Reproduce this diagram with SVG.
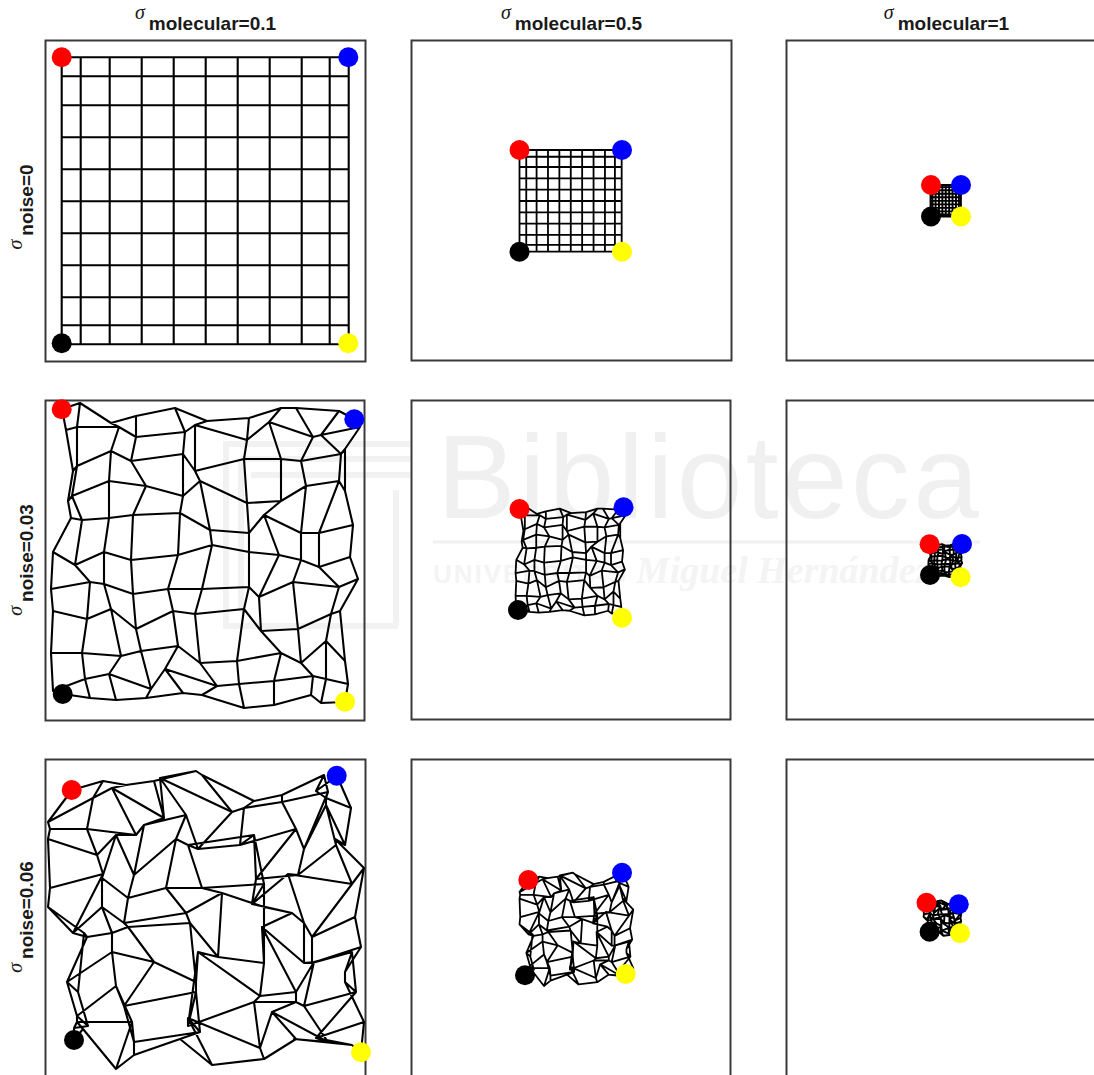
<svg xmlns="http://www.w3.org/2000/svg" xmlns:xlink="http://www.w3.org/1999/xlink" width="1094" height="1075" viewBox="0 0 1094 1075">
<style>
.box{fill:none;stroke:#3a3a3a;stroke-width:2}
.m1{fill:none;stroke:#000;stroke-width:2.1;stroke-linejoin:round}
.m2{fill:none;stroke:#000;stroke-width:1.8;stroke-linejoin:round}
.m3{fill:none;stroke:#000;stroke-width:1.9;stroke-linejoin:round}
.hd{font-family:"Liberation Sans",Arial,sans-serif;font-weight:bold;font-size:19px;fill:#1a1a1a}
.sg{font-family:"Liberation Serif","Times New Roman",serif;font-style:italic;font-weight:normal;font-size:20px}
.wm{fill:#f0f0f0}
.wm2{fill:#f4f4f4}
.wml{fill:none;stroke:#f2f2f2;stroke-width:6}
.r{fill:#ff0000}.b{fill:#0000ff}.k{fill:#000}.y{fill:#ffff00}
</style>
<defs>
<path id="grid" vector-effect="non-scaling-stroke" d="M0,0H287M0,19H287M0,48H287M0,80H287M0,112H287M0,144H287M0,176H287M0,208H287M0,240H287M0,268H287M0,287H287M0,0V287M19,0V287M48,0V287M80,0V287M112,0V287M144,0V287M176,0V287M208,0V287M240,0V287M268,0V287M287,0V287"/>
<path id="meshA" vector-effect="non-scaling-stroke" d="M0,-3L18,-9L49,11L74,4L113,-4L145,9L187,6L219,-4L234,-4L277,-1L292,7
M4,18L15,15L57,15L74,25L123,20L133,13L185,28L207,10L251,25L259,23L298,15
M11,59L15,54L49,39L69,49L121,42L133,59L182,47L219,47L239,49L279,42L283,37
M6,89L10,84L47,69L84,74L121,84L138,69L185,91L219,89L244,74L277,69L283,79
M9,106L20,108L47,106L71,103L118,101L148,118L187,121L202,103L239,121L257,121L291,113
M-9,140L13,153L42,140L69,148L116,143L150,133L187,140L217,143L239,148L257,155L288,145
M-11,177L28,170L42,172L71,182L106,177L140,177L187,175L197,185L231,170L277,175L296,167
M-9,199L25,207L49,197L74,217L111,199L133,202L182,197L199,219L236,217L269,202L278,199
M-11,241L20,241L59,244L79,239L116,234L138,251L175,249L219,241L239,251L264,229L283,249
M-9,279L23,267L47,262L89,277L103,257L155,274L177,272L212,269L251,264L264,267L286,272
M1,282L28,286L54,288L84,286L121,281L140,283L182,296L212,293L249,283L259,291L283,290
M0,-3L4,18L11,59L6,89L9,106L-9,140L-11,177L-9,199L-11,241L-9,279L1,282
M18,-9L15,15L15,54L10,84L20,108L13,153L28,170L25,207L20,241L23,267L28,286
M49,11L57,15L49,39L47,69L47,106L42,140L42,172L49,197L59,244L47,262L54,288
M74,4L74,25L69,49L84,74L71,103L69,148L71,182L74,217L79,239L89,277L84,286
M113,-4L123,20L121,42L121,84L118,101L116,143L106,177L111,199L116,234L103,257L121,281
M145,9L133,13L133,59L138,69L148,118L150,133L140,177L133,202L138,251L155,274L140,283
M187,6L185,28L182,47L185,91L187,121L187,140L187,175L182,197L175,249L177,272L182,296
M219,-4L207,10L219,47L219,89L202,103L217,143L197,185L199,219L219,241L212,269L212,293
M234,-4L251,25L239,49L244,74L239,121L239,148L231,170L236,217L239,251L251,264L249,283
M277,-1L259,23L279,42L277,69L257,121L257,155L277,175L269,202L264,229L264,267L259,291
M292,7L298,15L283,37L283,79L291,113L288,145L296,167L278,199L283,249L286,272L283,290"/>
<path id="meshB" vector-effect="non-scaling-stroke" d="M6,7L37,-2L60,2L88,-2L130,-12L136,-8L188,18L216,12L258,-8L250,8L271,-7
M-18,39L27,15L46,5L98,35L94,-5L166,29L178,25L216,19L262,9L260,15L285,25
M-16,46L21,46L70,52L78,42L120,32L132,66L174,62L230,46L238,66L260,22L279,62
M-18,56L31,72L50,52L68,92L110,56L122,62L188,52L190,96L232,92L270,62L269,56
M-16,105L37,91L36,95L62,115L100,105L136,105L198,101L186,121L222,91L286,101L298,85
M-18,124L7,150L36,124L58,140L120,130L156,110L198,124L226,130L238,140L246,154L289,134
M18,150L21,154L46,150L62,144L124,140L152,174L198,180L196,144L238,180L246,180L295,164
M12,209L1,199L46,169L88,179L130,199L132,169L194,213L230,209L248,179L286,169L279,189
M22,243L11,233L50,203L58,223L130,209L122,243L188,219L230,219L238,223L290,209L279,199
M8,245L11,239L66,239L68,259L134,249L122,235L194,265L206,229L262,259L250,255L298,239
M8,257L17,246L50,286L68,272L114,256L146,282L198,276L230,256L228,256L286,262L295,269
M6,7L-18,39L-16,46L-18,56L-16,105L-18,124L18,150L12,209L22,243L8,245L8,257
M37,-2L27,15L21,46L31,72L37,91L7,150L21,154L1,199L11,233L11,239L17,246
M60,2L46,5L70,52L50,52L36,95L36,124L46,150L46,169L50,203L66,239L50,286
M88,-2L98,35L78,42L68,92L62,115L58,140L62,144L88,179L58,223L68,259L68,272
M130,-12L94,-5L120,32L110,56L100,105L120,130L124,140L130,199L130,209L134,249L114,256
M136,-8L166,29L132,66L122,62L136,105L156,110L152,174L132,169L122,243L122,235L146,282
M188,18L178,25L174,62L188,52L198,101L198,124L198,180L194,213L188,219L194,265L198,276
M216,12L216,19L230,46L190,96L186,121L226,130L196,144L230,209L230,219L206,229L230,256
M258,-8L262,9L238,66L232,92L222,91L238,140L238,180L248,179L238,223L262,259L228,256
M250,8L260,15L260,22L270,62L286,101L246,154L246,180L286,169L290,209L250,255L286,262
M271,-7L285,25L279,62L269,56L298,85L289,134L295,164L279,189L279,199L298,239L295,269"/>
</defs>
<rect width="1094" height="1075" fill="#fff"/>
<g id="watermark">
<path class="wml" d="M410,444H226V626H398M410,459H241M410,475H251M396,490V626M241,459V612"/>
<text class="wm" x="437" y="518" font-family="Liberation Sans, Arial, sans-serif" font-size="118" textLength="542" lengthAdjust="spacing">Biblioteca</text>
<line x1="433" y1="542" x2="980" y2="542" stroke="#f1f1f1" stroke-width="3"/>
<text class="wm2" x="433" y="583"><tspan font-family="Liberation Sans, Arial, sans-serif" font-weight="bold" font-size="26" letter-spacing="2">UNIVERSITAS</tspan><tspan dx="8" font-family="Liberation Serif, serif" font-style="italic" font-weight="bold" font-size="38">Miguel Hernández</tspan></text>
</g>
<g id="panel-r1c1">
<rect class="box" x="45.5" y="40.5" width="320" height="321"/>
<use href="#grid" xlink:href="#grid" class="m1" transform="translate(61.7,57.3)"/>
<circle class="r" cx="61.7" cy="57.3" r="10"/><circle class="b" cx="348.3" cy="57.3" r="10"/><circle class="k" cx="61.7" cy="343.3" r="10"/><circle class="y" cx="348.3" cy="343.3" r="10"/>
</g>
<g id="panel-r1c2">
<rect class="box" x="411.5" y="40.5" width="320" height="320"/>
<use href="#grid" xlink:href="#grid" class="m2" transform="translate(519.5,150) scale(0.356,0.354)"/>
<circle class="r" cx="519.5" cy="150" r="10"/><circle class="b" cx="622" cy="150" r="10"/><circle class="k" cx="519.5" cy="251.7" r="10"/><circle class="y" cx="622" cy="251.7" r="10"/>
</g>
<g id="panel-r1c3">
<rect class="box" x="786.5" y="40.5" width="330" height="320"/>
<use href="#grid" xlink:href="#grid" class="m3" transform="translate(930.5,185) scale(0.106,0.11)"/>
<circle class="r" cx="931" cy="185" r="10"/><circle class="b" cx="961" cy="185" r="10"/><circle class="k" cx="931" cy="216.5" r="10"/><circle class="y" cx="961" cy="216.5" r="10"/>
</g>
<g id="panel-r2c1">
<rect class="box" x="45.5" y="400.5" width="319" height="320"/>
<use href="#meshA" xlink:href="#meshA" class="m1" transform="translate(62,412)"/>
<circle class="r" cx="61.7" cy="409.3" r="10"/><circle class="b" cx="354.3" cy="419.3" r="10"/><circle class="k" cx="62.7" cy="694" r="10"/><circle class="y" cx="345" cy="701.7" r="10"/>
</g>
<g id="panel-r2c2">
<rect class="box" x="411.5" y="400.5" width="319" height="319"/>
<use href="#meshA" xlink:href="#meshA" class="m2" transform="translate(519.5,510) scale(0.356)"/>
<circle class="r" cx="519.5" cy="509" r="10"/><circle class="b" cx="623.5" cy="507.3" r="10"/><circle class="k" cx="518" cy="610" r="10"/><circle class="y" cx="622" cy="617.7" r="10"/>
</g>
<g id="panel-r2c3">
<rect class="box" x="786.5" y="400.5" width="330" height="319"/>
<use href="#meshA" xlink:href="#meshA" class="m3" transform="translate(929.6,544.6) scale(0.11)"/>
<circle class="r" cx="929.6" cy="544.3" r="10"/><circle class="b" cx="962" cy="544" r="10"/><circle class="k" cx="930" cy="575" r="10"/><circle class="y" cx="960.6" cy="577.3" r="10"/>
</g>
<g id="panel-r3c1">
<rect class="box" x="45.5" y="759.5" width="320" height="330"/>
<use href="#meshB" xlink:href="#meshB" class="m1" transform="translate(66,783)"/>
<circle class="r" cx="71.7" cy="790" r="10"/><circle class="b" cx="336.7" cy="775.7" r="10"/><circle class="k" cx="74" cy="1040" r="10"/><circle class="y" cx="361" cy="1052.3" r="10"/>
</g>
<g id="panel-r3c2">
<rect class="box" x="411.5" y="759.5" width="319" height="330"/>
<use href="#meshB" xlink:href="#meshB" class="m2" transform="translate(526,877.3) scale(0.36,0.38)"/>
<circle class="r" cx="528.3" cy="880" r="10"/><circle class="b" cx="622" cy="872.7" r="10"/><circle class="k" cx="525" cy="975.3" r="10"/><circle class="y" cx="625.7" cy="974" r="10"/>
</g>
<g id="panel-r3c3">
<rect class="box" x="786.5" y="759.5" width="330" height="330"/>
<use href="#meshB" xlink:href="#meshB" class="m3" transform="translate(925.8,901.9) scale(0.12)"/>
<circle class="r" cx="926.5" cy="902.7" r="10"/><circle class="b" cx="958.8" cy="904.3" r="10"/><circle class="k" cx="929.6" cy="931.7" r="10"/><circle class="y" cx="960" cy="933.3" r="10"/>
</g>
<g id="labels">
<text class="hd" x="205.5" y="30" text-anchor="middle"><tspan class="sg" dy="-11">σ</tspan><tspan dx="4" dy="11">molecular=0.1</tspan></text>
<text class="hd" x="571.5" y="30" text-anchor="middle"><tspan class="sg" dy="-11">σ</tspan><tspan dx="4" dy="11">molecular=0.5</tspan></text>
<text class="hd" x="946.5" y="30" text-anchor="middle"><tspan class="sg" dy="-11">σ</tspan><tspan dx="4" dy="11">molecular=1</tspan></text>
<text class="hd" transform="translate(33,207) rotate(-90)" text-anchor="middle"><tspan class="sg" dy="-11">σ</tspan><tspan dx="4" dy="11">noise=0</tspan></text>
<text class="hd" transform="translate(33,560) rotate(-90)" text-anchor="middle"><tspan class="sg" dy="-11">σ</tspan><tspan dx="4" dy="11">noise=0.03</tspan></text>
<text class="hd" transform="translate(33,917) rotate(-90)" text-anchor="middle"><tspan class="sg" dy="-11">σ</tspan><tspan dx="4" dy="11">noise=0.06</tspan></text>
</g>
</svg>
